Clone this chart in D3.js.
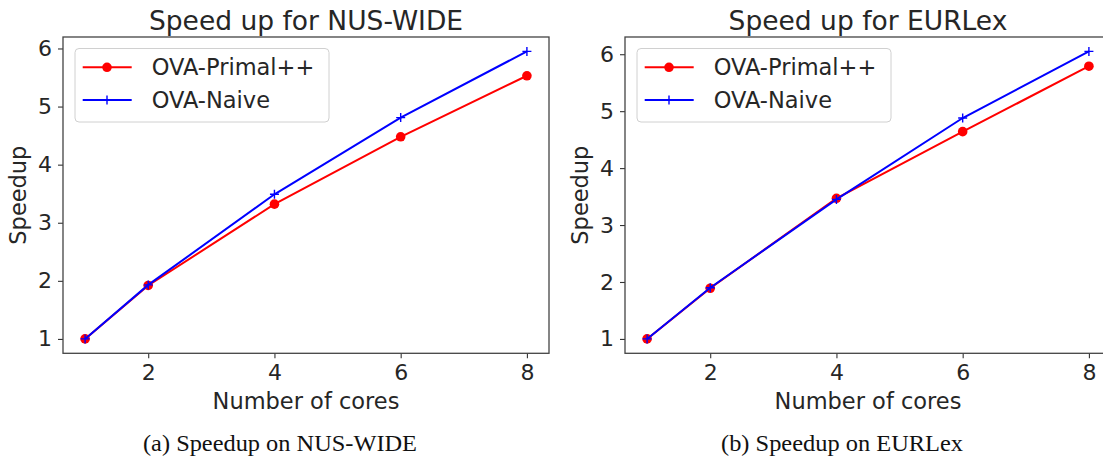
<!DOCTYPE html>
<html>
<head>
  <meta charset="utf-8">
  <title>Speedup</title>
  <style>
    body { margin: 0; background: #fff; }
    svg { display: block; }
    text { font-family: "DejaVu Sans", sans-serif; fill: #262626; }
  </style>
  <script src="https://d3js.org/d3.v7.min.js"></script>
</head>
<body>
  <svg id="chart" width="1103" height="456"></svg>
  <script>
    var width = 1103, height = 456;

    // data
    var cores = [1, 2, 4, 6, 8];
    var nusPrimal = [1.0, 1.92, 3.32, 4.48, 5.53];
    var nusNaive  = [1.0, 1.93, 3.49, 4.81, 5.95];
    var eurPrimal = [1.0, 1.89, 3.47, 4.64, 5.79];
    var eurNaive  = [1.0, 1.90, 3.45, 4.88, 6.05];
    var xTicks = [2, 4, 6, 8];
    var yTicks = [1, 2, 3, 4, 5, 6];
    var seriesNames = ["OVA-Primal++", "OVA-Naive"];
    var titles = ["Speed up for NUS-WIDE", "Speed up for EURLex"];
    var captions = ["(a) Speedup on NUS-WIDE", "(b) Speedup on EURLex"];

    var svg = d3.select("#chart");

    function padded(ext) {
      var m = (ext[1] - ext[0]) * 0.05;
      return [ext[0] - m, ext[1] + m];
    }

    function drawPanel(left, primal, naive, title, caption, capX, capW) {
      var x0 = left, x1 = left + 486, y0 = 37, y1 = 353.3;
      var g = svg.append("g");

      var x = d3.scaleLinear().domain(padded(d3.extent(cores))).range([x0, x1]);
      var y = d3.scaleLinear()
          .domain(padded(d3.extent(primal.concat(naive))))
          .range([y1, y0]);

      // axes
      var xAxis = g.append("g")
          .attr("transform", "translate(0," + y1 + ")")
          .call(d3.axisBottom(x).tickValues(xTicks).tickFormat(d3.format("d")).tickSize(5).tickPadding(6));
      var yAxis = g.append("g")
          .attr("transform", "translate(" + x0 + ",0)")
          .call(d3.axisLeft(y).tickValues(yTicks).tickFormat(d3.format("d")).tickSize(5).tickPadding(6));
      [xAxis, yAxis].forEach(function(a) {
        a.select(".domain").remove();
        a.selectAll("line").attr("stroke", "#333").attr("stroke-width", 1.1);
        a.selectAll("text").style("font-size", "22px").attr("fill", "#262626");
      });
      xAxis.selectAll("text").attr("dy", "0.71em");

      // frame
      g.append("rect")
          .attr("x", x0).attr("y", y0)
          .attr("width", x1 - x0).attr("height", y1 - y0)
          .attr("fill", "none").attr("stroke", "#444").attr("stroke-width", 1.3);

      var line = d3.line()
          .x(function(d, i) { return x(cores[i]); })
          .y(function(d) { return y(d); });

      // primal: red with dots
      g.append("path").datum(primal)
          .attr("d", line).attr("fill", "none")
          .attr("stroke", "#ff0000").attr("stroke-width", 2);
      g.selectAll(".dot").data(primal).join("circle")
          .attr("class", "dot")
          .attr("cx", function(d, i) { return x(cores[i]); })
          .attr("cy", function(d) { return y(d); })
          .attr("r", 4.8).attr("fill", "#ff0000");

      // naive: blue with plus
      g.append("path").datum(naive)
          .attr("d", line).attr("fill", "none")
          .attr("stroke", "#0000ff").attr("stroke-width", 2);
      g.selectAll(".plus").data(naive).join("path")
          .attr("class", "plus")
          .attr("d", function(d, i) {
            var cx = x(cores[i]), cy = y(d), s = 4.5;
            return "M" + (cx - s) + "," + cy + "H" + (cx + s) +
                   "M" + cx + "," + (cy - s) + "V" + (cy + s);
          })
          .attr("stroke", "#0000ff").attr("stroke-width", 1.4);

      // title and axis labels
      g.append("text")
          .attr("x", (x0 + x1) / 2).attr("y", 30)
          .attr("text-anchor", "middle")
          .style("font-size", "26.5px")
          .text(title);
      g.append("text")
          .attr("x", (x0 + x1) / 2).attr("y", 409)
          .attr("text-anchor", "middle")
          .style("font-size", "22.5px")
          .text("Number of cores");
      g.append("text")
          .attr("transform", "translate(" + (x0 - 37) + "," + ((y0 + y1) / 2) + ") rotate(-90)")
          .attr("text-anchor", "middle")
          .style("font-size", "22.5px")
          .text("Speedup");

      // legend
      var lg = g.append("g").attr("transform", "translate(" + (x0 + 12) + ",48.5)");
      lg.append("rect")
          .attr("width", 254).attr("height", 73.5)
          .attr("rx", 4)
          .attr("fill", "#fff").attr("fill-opacity", 0.8)
          .attr("stroke", "#d0d0d0").attr("stroke-width", 1);
      var rows = [18.8, 51.5];
      lg.append("line").attr("x1", 7.7).attr("x2", 56.7)
          .attr("y1", rows[0]).attr("y2", rows[0])
          .attr("stroke", "#ff0000").attr("stroke-width", 2);
      lg.append("circle").attr("cx", 32).attr("cy", rows[0]).attr("r", 4.8).attr("fill", "#ff0000");
      lg.append("line").attr("x1", 7.7).attr("x2", 56.7)
          .attr("y1", rows[1]).attr("y2", rows[1])
          .attr("stroke", "#0000ff").attr("stroke-width", 2);
      lg.append("path")
          .attr("d", "M27.5," + rows[1] + "H36.5M32," + (rows[1] - 4.5) + "V" + (rows[1] + 4.5))
          .attr("stroke", "#0000ff").attr("stroke-width", 1.4);
      lg.selectAll(".lt").data(seriesNames).join("text")
          .attr("class", "lt")
          .attr("x", 76.7)
          .attr("y", function(d, i) { return rows[i] + 8; })
          .style("font-size", "22.5px")
          .text(function(d) { return d; });

      // caption
      svg.append("text")
          .attr("x", capX).attr("y", 451)
          .attr("textLength", capW)
          .attr("lengthAdjust", "spacingAndGlyphs")
          .style("font-family", "'Liberation Serif', 'DejaVu Serif', serif")
          .style("font-size", "22.5px")
          .style("fill", "#111")
          .text(caption);
    }

    drawPanel(63, nusPrimal, nusNaive, titles[0], captions[0], 143, 274);
    drawPanel(625, eurPrimal, eurNaive, titles[1], captions[1], 721, 242);
  </script>
</body>
</html>
